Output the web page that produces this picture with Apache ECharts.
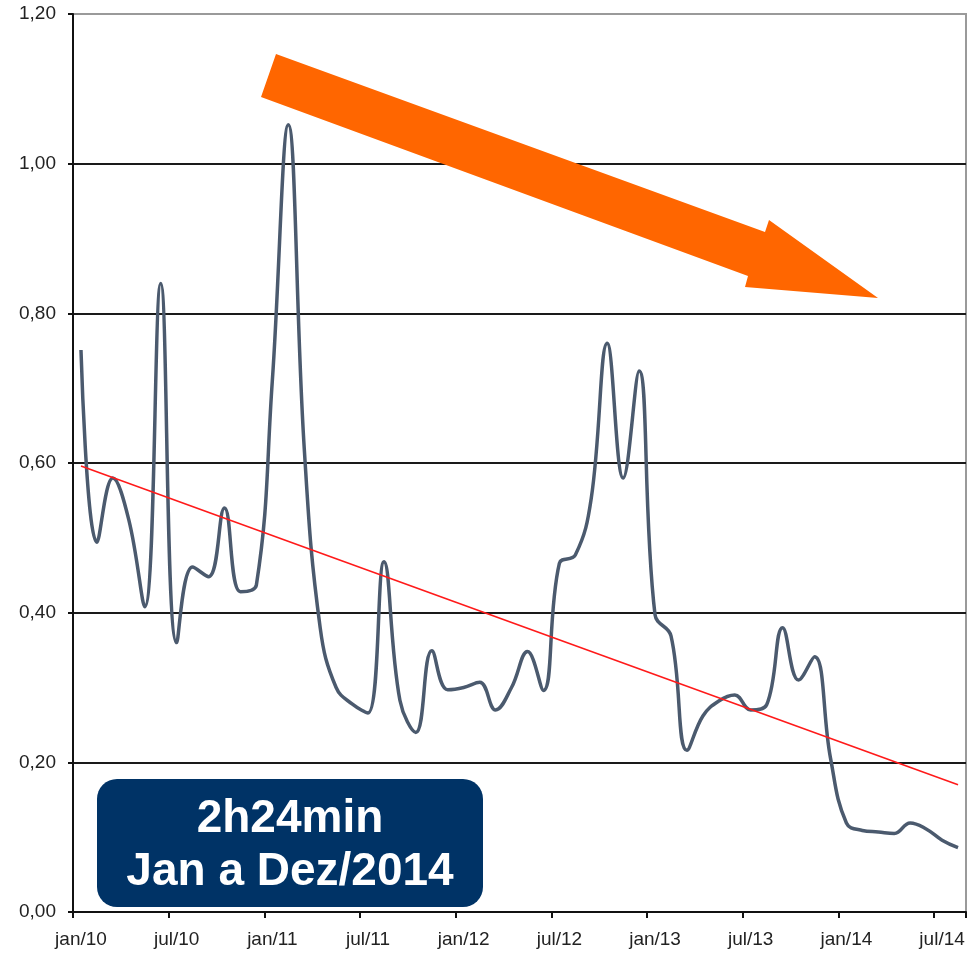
<!DOCTYPE html>
<html>
<head>
<meta charset="utf-8">
<script src="https://cdn.jsdelivr.net/npm/echarts@6/dist/echarts.min.js"></script>
<style>
html,body{margin:0;padding:0;background:#fff;}
#chart{width:977px;height:966px;}
</style>
</head>
<body>
<div id="chart"></div>
<script>
const monthNames = ['jan','fev','mar','abr','mai','jun','jul','ago','set','out','nov','dez'];
const years = ['10','11','12','13','14'];
const monthCount = 56;
const values = [
  0.751, 0.494, 0.580, 0.524, 0.408, 0.840, 0.360, 0.461, 0.448, 0.540, 0.428, 0.437,
  0.710, 1.052, 0.620, 0.380, 0.300, 0.278, 0.266, 0.468, 0.283, 0.240, 0.349, 0.297,
  0.300, 0.307, 0.270, 0.300, 0.348, 0.296, 0.466, 0.477, 0.553, 0.760, 0.580, 0.723,
  0.397, 0.369, 0.216, 0.262, 0.282, 0.290, 0.270, 0.277, 0.380, 0.310, 0.341, 0.206,
  0.119, 0.109, 0.107, 0.105, 0.119, 0.111, 0.096, 0.086
];
const trendValues = [0.596, 0.170];
const yTicks = [0, 0.2, 0.4, 0.6, 0.8, 1.0, 1.2];
const boxLines = ['2h24min', 'Jan a Dez/2014'];

const categories = [];
for (let i = 0; i < monthCount; i++) {
  categories.push(monthNames[i % 12] + '/' + years[Math.floor(i / 12)]);
}

const chart = echarts.init(document.getElementById('chart'));
const font = "'Liberation Sans', Arial, sans-serif";

chart.setOption({
  animation: false,
  grid: {
    left: 73, right: 11, top: 14, bottom: 54,
    show: true, borderColor: '#9a9a9a', borderWidth: 2, backgroundColor: '#fff'
  },
  xAxis: {
    type: 'category',
    data: categories,
    boundaryGap: true,
    axisLine: { show: true, lineStyle: { color: '#111', width: 2 } },
    axisTick: { show: true, interval: 5, length: 6, lineStyle: { color: '#111', width: 2 } },
    axisLabel: { interval: 5, color: '#222', fontFamily: font, fontSize: 19, margin: 18 },
    splitLine: { show: false }
  },
  yAxis: {
    type: 'value',
    min: yTicks[0], max: yTicks[yTicks.length - 1], interval: 0.2,
    axisLine: { show: true, lineStyle: { color: '#111', width: 2 } },
    axisTick: { show: true, length: 5, lineStyle: { color: '#111', width: 2 } },
    axisLabel: {
      color: '#222', fontFamily: font, fontSize: 19, margin: 17,
      formatter: v => v.toFixed(2).replace('.', ',')
    },
    splitLine: {
      show: true,
      lineStyle: { color: ['#111','#1a1a1a','#1a1a1a','#1a1a1a','#1a1a1a','#1a1a1a','#9a9a9a'], width: 2 }
    }
  },
  series: [
    {
      type: 'line',
      data: values,
      smooth: 0.42,
      symbol: 'none',
      lineStyle: { color: '#4b5a6e', width: 3.5 },
      z: 3
    },
    {
      type: 'line',
      data: [[0, trendValues[0]], [monthCount - 1, trendValues[1]]],
      symbol: 'none',
      lineStyle: { color: '#ff1a1a', width: 1.6 },
      z: 4
    }
  ],
  graphic: [
    {
      type: 'polygon',
      shape: { points: [[276,54],[765,232],[769,220],[878,298],[745,287],[748,276],[261,97]] },
      style: { fill: '#ff6600' },
      z: 10
    },
    {
      type: 'rect',
      shape: { x: 97, y: 779, width: 386, height: 128, r: 20 },
      style: { fill: '#003366' },
      z: 10
    },
    {
      type: 'text',
      x: 290, y: 846,
      style: {
        text: boxLines.join('\n'),
        fill: '#fff',
        font: 'bold 46px ' + font,
        align: 'center',
        verticalAlign: 'middle',
        lineHeight: 53
      },
      z: 11
    }
  ]
});
</script>
</body>
</html>
